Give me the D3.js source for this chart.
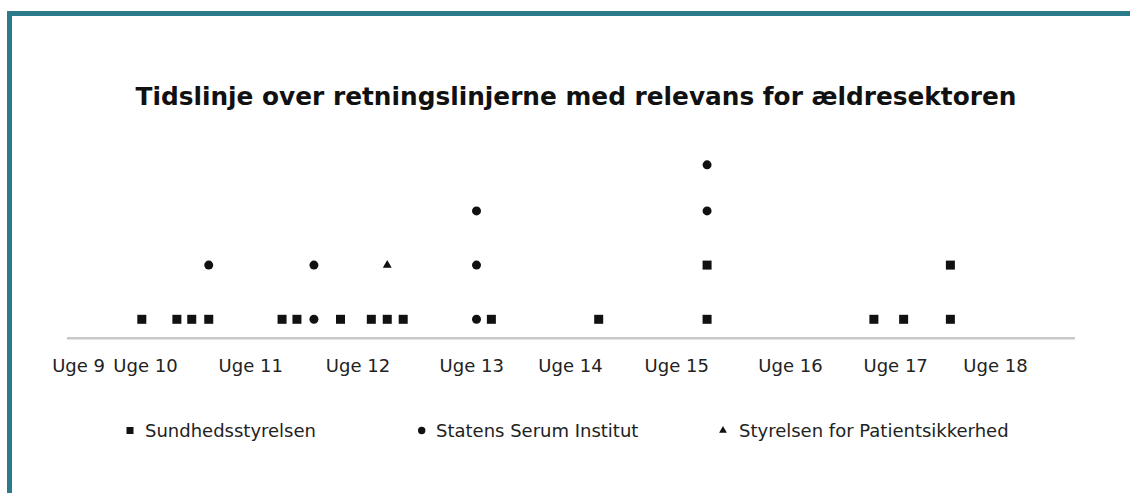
<!DOCTYPE html>
<html>
<head>
<meta charset="utf-8">
<script src="https://cdn.jsdelivr.net/npm/d3@7"></script>
<style>
  html, body { margin: 0; padding: 0; background: #ffffff; }
  svg { display: block; font-family: "DejaVu Sans", Verdana, sans-serif; }
</style>
</head>
<body>
<svg id="chart" width="1130" height="493"></svg>
<script>
// ---- data (x in week units, y = stacking level) ----
const title = "Tidslinje over retningslinjerne med relevans for ældresektoren";
const tickLabels = ["Uge 9", "Uge 10", "Uge 11", "Uge 12", "Uge 13", "Uge 14", "Uge 15", "Uge 16", "Uge 17", "Uge 18"];
const tickValues = [9.37, 10.0, 10.99, 12.0, 13.07, 14.0, 15.0, 16.07, 17.06, 18.0];
const seriesNames = ["Sundhedsstyrelsen", "Statens Serum Institut", "Styrelsen for Patientsikkerhed"];

const sundX = [9.97, 10.30, 10.44, 10.60, 11.29, 11.43, 11.84, 12.13, 12.28, 12.43, 13.26, 14.27, 15.29, 15.29, 16.86, 17.14, 17.58, 17.58];
const sundY = [1, 1, 1, 1, 1, 1, 1, 1, 1, 1, 1, 1, 1, 2, 1, 1, 1, 2];
const ssiX = [10.60, 11.59, 11.59, 13.12, 13.12, 13.12, 15.29, 15.29];
const ssiY = [2, 1, 2, 1, 2, 3, 3, 3.85];
const stpsX = [12.28];
const stpsY = [2];

// ---- layout ----
const svg = d3.select("#chart");
const W = 1130, H = 493;
const frameColor = "#2c7b8b";

// frame (top and left teal bars)
svg.append("rect").attr("x", 7).attr("y", 11).attr("width", W - 7).attr("height", 5).attr("fill", frameColor);
svg.append("rect").attr("x", 7).attr("y", 11).attr("width", 5).attr("height", H - 11).attr("fill", frameColor);

// title
svg.append("text")
  .attr("x", 576).attr("y", 105)
  .attr("text-anchor", "middle")
  .attr("font-weight", "bold")
  .attr("font-size", "24.8px")
  .attr("fill", "#111")
  .text(title);

// scales
const x = d3.scaleLinear().domain([9.0, 18.75]).range([38.75, 1074.7]);
const y = d3.scaleLinear().domain([0, 4]).range([373.5, 156.7]);
const axisY = 338.3;

// axis
const axis = d3.axisBottom(x)
  .tickValues(tickValues)
  .tickFormat((d, i) => tickLabels[i])
  .tickSize(0)
  .tickPadding(0);

const gAxis = svg.append("g").attr("transform", `translate(0,${axisY})`).call(axis);
gAxis.select(".domain").remove();
gAxis.append("line")
  .attr("x1", 67).attr("x2", 1075).attr("y1", 0).attr("y2", 0)
  .attr("stroke", "#c8c8c8").attr("stroke-width", 2.5);
gAxis.selectAll(".tick text")
  .attr("y", 34).attr("dy", 0)
  .attr("font-size", "18px")
  .attr("font-family", "DejaVu Sans, Verdana, sans-serif")
  .attr("fill", "#222");

// marks
const sq = 9;
const sundData = sundX.map((v, i) => [v, sundY[i]]);
const ssiData = ssiX.map((v, i) => [v, ssiY[i]]);
const stpsData = stpsX.map((v, i) => [v, stpsY[i]]);

svg.append("g").selectAll("rect").data(sundData).join("rect")
  .attr("x", d => x(d[0]) - sq / 2)
  .attr("y", d => y(d[1]) - sq / 2)
  .attr("width", sq).attr("height", sq)
  .attr("fill", "#111");

svg.append("g").selectAll("circle").data(ssiData).join("circle")
  .attr("cx", d => x(d[0]))
  .attr("cy", d => y(d[1]))
  .attr("r", 4.5)
  .attr("fill", "#111");

const tri = d3.symbol().type(d3.symbolTriangle).size(34);
svg.append("g").selectAll("path").data(stpsData).join("path")
  .attr("transform", d => `translate(${x(d[0])},${y(d[1])})`)
  .attr("d", tri)
  .attr("fill", "#111");

// legend
const legendY = 437;
const legendItems = [
  { name: seriesNames[0], mx: 130, tx: 145, type: "square" },
  { name: seriesNames[1], mx: 421.7, tx: 436, type: "circle" },
  { name: seriesNames[2], mx: 723, tx: 739, type: "triangle" }
];
const lg = svg.append("g");
legendItems.forEach(it => {
  const cy = legendY - 6.5;
  if (it.type === "square") {
    lg.append("rect").attr("x", it.mx - 3.5).attr("y", cy - 3.5).attr("width", 7).attr("height", 7).attr("fill", "#111");
  } else if (it.type === "circle") {
    lg.append("circle").attr("cx", it.mx).attr("cy", cy).attr("r", 3.7).attr("fill", "#111");
  } else {
    lg.append("path").attr("transform", `translate(${it.mx},${cy})`)
      .attr("d", d3.symbol().type(d3.symbolTriangle).size(26)).attr("fill", "#111");
  }
  lg.append("text").attr("x", it.tx).attr("y", legendY)
    .attr("font-size", "18px").attr("fill", "#222").text(it.name);
});
</script>
</body>
</html>
